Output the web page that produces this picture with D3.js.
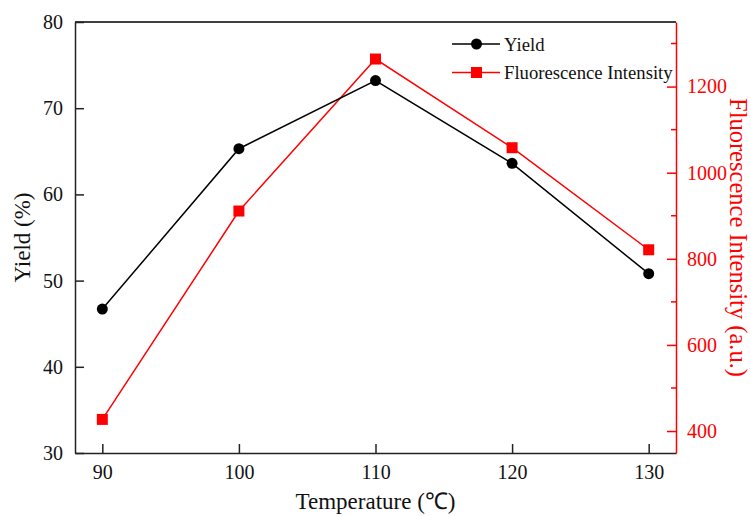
<!DOCTYPE html>
<html>
<head>
<meta charset="utf-8">
<script src="https://cdn.jsdelivr.net/npm/d3@7.9.0/dist/d3.min.js"></script>
<style>
  body { margin: 0; background: #fff; }
  svg text, svg g { font-family: "Liberation Serif", "Times New Roman", serif; }
</style>
</head>
<body>
<svg id="chart" width="751" height="516"></svg>
<script>
const temperatures = [90, 100, 110, 120, 130];
const yieldValues = [46.7, 65.3, 73.2, 63.6, 50.8];
const fluorValues = [427, 911, 1264, 1058, 821];
const yieldTicks = [30, 40, 50, 60, 70, 80];
const fluorTicks = [400, 600, 800, 1000, 1200];
const fluorMinorTicks = [500, 700, 900, 1100, 1300];

const margin = { left: 75, right: 75, top: 22, bottom: 63 };
const width = 751, height = 516;
const red = '#ff0000';
const serif = '"Liberation Serif", "Times New Roman", serif';

const svg = d3.select('#chart');

let x = d3.scaleLinear().domain([88, 132]).range([margin.left, width - margin.right]);
let yLeft = d3.scaleLinear().domain([30, 80]).range([height - margin.bottom, margin.top]);
let yRight = d3.scaleLinear().domain([349, 1350]).range([height - margin.bottom, margin.top]);

const bottom = height - margin.bottom;
const right = width - margin.right;

// top frame line
svg.append('line')
    .attr('x1', margin.left).attr('x2', right)
    .attr('y1', margin.top).attr('y2', margin.top)
    .attr('stroke', '#000').attr('stroke-width', 1.5);

// bottom axis, ticks pointing inward
let xAxis = svg.append('g')
    .attr('transform', `translate(0,${bottom})`)
    .call(d3.axisBottom(x).tickValues(temperatures).tickSize(-9).tickPadding(12).tickSizeOuter(0));
xAxis.attr('font-family', serif);
xAxis.select('.domain').attr('stroke', '#222').attr('stroke-width', 1.5);
xAxis.selectAll('.tick line').attr('stroke', '#222').attr('stroke-width', 1.5);
xAxis.selectAll('text').attr('font-size', 20).attr('fill', '#111');

// left axis
let leftAxis = svg.append('g')
    .attr('transform', `translate(${margin.left},0)`)
    .call(d3.axisLeft(yLeft).tickValues(yieldTicks).tickSize(-9).tickPadding(12).tickSizeOuter(0));
leftAxis.attr('font-family', serif);
leftAxis.select('.domain').attr('stroke', '#222').attr('stroke-width', 1.5);
leftAxis.selectAll('.tick line').attr('stroke', '#222').attr('stroke-width', 1.5);
leftAxis.selectAll('text').attr('font-size', 20).attr('fill', '#111');

// right axis (red)
let rightAxis = svg.append('g')
    .attr('transform', `translate(${right},0)`)
    .call(d3.axisRight(yRight).tickValues(fluorTicks).tickFormat(d3.format('d'))
        .tickSize(-9).tickPadding(11).tickSizeOuter(0));
rightAxis.attr('font-family', serif);
rightAxis.select('.domain').attr('stroke', red).attr('stroke-width', 1.5);
rightAxis.selectAll('.tick line').attr('stroke', red).attr('stroke-width', 1.5);
rightAxis.selectAll('text').attr('font-size', 20).attr('fill', red);

svg.append('g')
    .selectAll('line')
    .data(fluorMinorTicks)
    .join('line')
    .attr('x1', right - 5).attr('x2', right)
    .attr('y1', d => yRight(d)).attr('y2', d => yRight(d))
    .attr('stroke', red).attr('stroke-width', 1.5);

// axis titles
svg.append('text')
    .attr('x', (margin.left + right) / 2).attr('y', 509)
    .attr('text-anchor', 'middle').attr('font-size', 23).attr('fill', '#111')
    .text('Temperature (℃)');

svg.append('text')
    .attr('transform', `translate(30,${(margin.top + bottom) / 2}) rotate(-90)`)
    .attr('text-anchor', 'middle').attr('font-size', 23).attr('fill', '#111')
    .text('Yield (%)');

svg.append('text')
    .attr('transform', `translate(730,${(margin.top + bottom) / 2}) rotate(90)`)
    .attr('text-anchor', 'middle').attr('font-size', 24.5).attr('fill', red)
    .text('Fluorescence Intensity (a.u.)');

// series
let yieldLine = d3.line().x((d, i) => x(temperatures[i])).y(d => yLeft(d));
let fluorLine = d3.line().x((d, i) => x(temperatures[i])).y(d => yRight(d));

svg.append('path').datum(fluorValues)
    .attr('d', fluorLine).attr('fill', 'none').attr('stroke', red).attr('stroke-width', 1.5);
svg.append('path').datum(yieldValues)
    .attr('d', yieldLine).attr('fill', 'none').attr('stroke', '#000').attr('stroke-width', 1.5);

svg.append('g').selectAll('rect')
    .data(fluorValues)
    .join('rect')
    .attr('x', (d, i) => x(temperatures[i]) - 5.5)
    .attr('y', d => yRight(d) - 5.5)
    .attr('width', 11).attr('height', 11)
    .attr('fill', red);

svg.append('g').selectAll('circle')
    .data(yieldValues)
    .join('circle')
    .attr('cx', (d, i) => x(temperatures[i]))
    .attr('cy', d => yLeft(d))
    .attr('r', 5.5)
    .attr('fill', '#000');

// legend
let legendItems = [
    { label: 'Yield', color: '#000', shape: 'circle', y: 44 },
    { label: 'Fluorescence Intensity', color: red, shape: 'square', y: 72.5 }
];
let legend = svg.append('g');
legendItems.forEach(item => {
    legend.append('line')
        .attr('x1', 452).attr('x2', 500)
        .attr('y1', item.y).attr('y2', item.y)
        .attr('stroke', item.color).attr('stroke-width', 1.5);
    if (item.shape === 'circle') {
        legend.append('circle').attr('cx', 476.5).attr('cy', item.y).attr('r', 5.5).attr('fill', item.color);
    } else {
        legend.append('rect').attr('x', 471).attr('y', item.y - 5.5).attr('width', 11).attr('height', 11).attr('fill', item.color);
    }
    legend.append('text')
        .attr('x', 504).attr('y', item.y)
        .attr('dy', '0.35em')
        .attr('font-size', 18.7).attr('fill', '#111')
        .text(item.label);
});
</script>
</body>
</html>
